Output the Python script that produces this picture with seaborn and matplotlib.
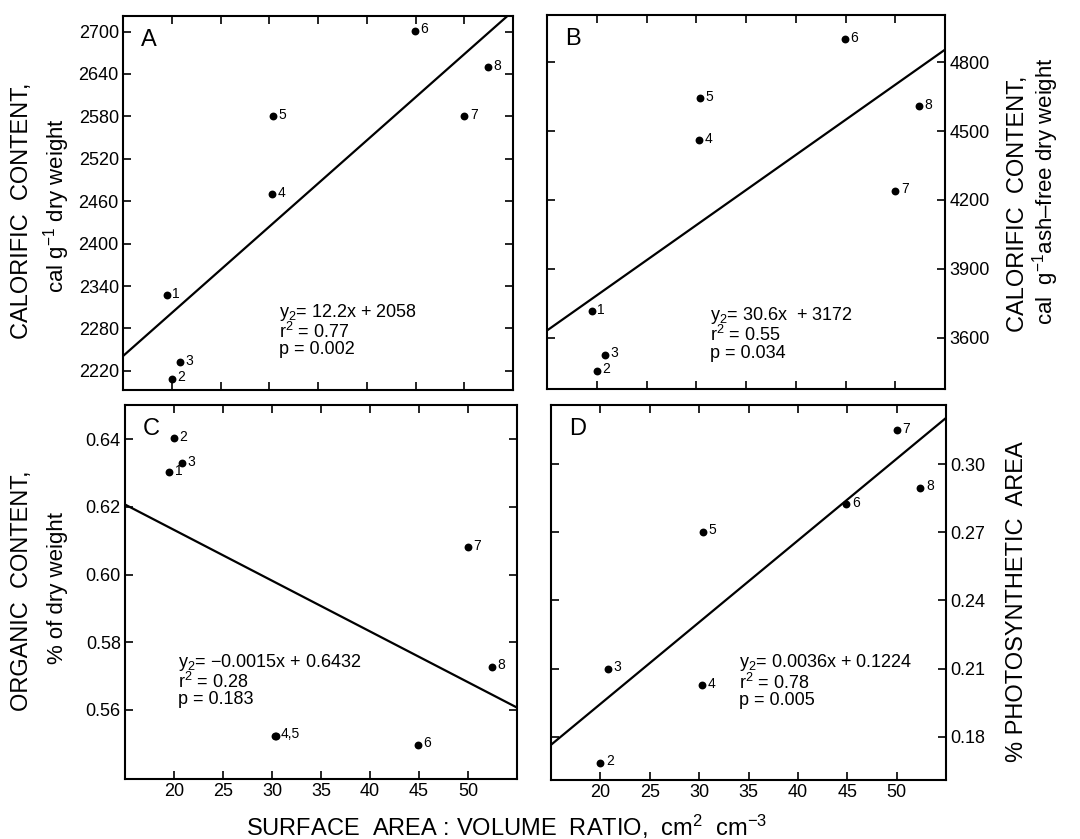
import numpy as np
import pandas as pd
import matplotlib
matplotlib.use("Agg")
import matplotlib.pyplot as plt
import seaborn as sns

# ---------------- data ----------------
sa_v_ratio = [19.5, 20.0, 20.8, 30.3, 30.4, 44.9, 50.0, 52.4]
point_ids = ["1", "2", "3", "4", "5", "6", "7", "8"]

cal_dry_weight = [2327, 2209, 2232, 2470, 2580, 2701, 2580, 2650]
cal_ash_free = [3716, 3455, 3525, 4460, 4643, 4900, 4240, 4608]
organic_content = [0.6302, 0.6403, 0.6329, 0.5524, 0.5524, 0.5497, 0.6081, 0.5728]
photosynthetic_area = [np.nan, 0.1685, 0.2099, 0.2027, 0.2703, 0.2824, 0.3151, 0.2897]

labels_A = ["1", "2", "3", "4", "5", "6", "7", "8"]
labels_B = ["1", "2", "3", "4", "5", "6", "7", "8"]
labels_C = ["1", "2", "3", "4,5", "", "6", "7", "8"]
labels_D = ["", "2", "3", "4", "5", "6", "7", "8"]

slopes = [12.2, 30.6, -0.0015, 0.0036]
intercepts = [2058, 3172, 0.6432, 0.1224]
r_squared = ["0.77", "0.55", "0.28", "0.78"]
p_values = ["0.002", "0.034", "0.183", "0.005"]
eq_texts = ["12.2x + 2058", "30.6x  + 3172", "\u22120.0015x + 0.6432", "0.0036x + 0.1224"]

yticks_A = [2220, 2280, 2340, 2400, 2460, 2520, 2580, 2640, 2700]
yticks_B = [3600, 3900, 4200, 4500, 4800]
yticks_C = [0.56, 0.58, 0.60, 0.62, 0.64]
yticks_D = [0.18, 0.21, 0.24, 0.27, 0.30]
xticks = [20, 25, 30, 35, 40, 45, 50]

# ---------------- style ----------------
sns.set_theme(style="ticks")
plt.rcParams["font.family"] = ["Liberation Sans", "DejaVu Sans"]
plt.rcParams["mathtext.fontset"] = "custom"
plt.rcParams["mathtext.rm"] = "Liberation Sans"
plt.rcParams["mathtext.it"] = "Liberation Sans"
plt.rcParams["axes.linewidth"] = 1.5
plt.rcParams["axes.edgecolor"] = "black"
plt.rcParams["text.color"] = "black"
plt.rcParams["axes.labelcolor"] = "black"
plt.rcParams["xtick.color"] = "black"
plt.rcParams["ytick.color"] = "black"

fig = plt.figure(figsize=(10.8, 8.39), dpi=100)
W, H = 1080, 839

def rect(l, t, r, b):
    return [l / W, 1 - b / H, (r - l) / W, (b - t) / H]

axA = fig.add_axes(rect(123, 16, 513, 390))
axB = fig.add_axes(rect(547, 15, 945, 389))
axC = fig.add_axes(rect(125, 405, 517, 779))
axD = fig.add_axes(rect(551, 405, 946, 780))

panels = [
    (axA, cal_dry_weight, labels_A, (2193, 2722), yticks_A, "A", "left", 2318, 31.0, "%d"),
    (axB, cal_ash_free, labels_B, (3376, 5006), yticks_B, "B", "right", 3742, 31.4, "%d"),
    (axC, organic_content, labels_C, (0.5396, 0.6501), yticks_C, "C", "left", 0.5772, 20.4, "%.2f"),
    (axD, photosynthetic_area, labels_D, (0.1609, 0.3261), yticks_D, "D", "right", 0.2171, 34.0, "%.2f"),
]

xline = np.array([15, 55])
for i, (ax, yvals, labs, ylim, yt, letter, side, ty, tx, fmt) in enumerate(panels):
    df = pd.DataFrame({"x": sa_v_ratio, "y": yvals, "lab": labs}).dropna()
    sns.scatterplot(data=df, x="x", y="y", ax=ax, color="black", s=32,
                    edgecolor="black", linewidth=0, zorder=3)
    line_df = pd.DataFrame({"x": xline, "y": slopes[i] * xline + intercepts[i]})
    sns.lineplot(data=line_df, x="x", y="y", ax=ax, color="black", linewidth=1.6)
    for _, row in df.iterrows():
        if row["lab"]:
            ax.annotate(row["lab"], (row["x"], row["y"]), xytext=(4, 1),
                        textcoords="offset points", fontsize=10, va="center", ha="left")
    ax.set_xlim(15, 55)
    ax.set_ylim(*ylim)
    ax.set_xticks(xticks)
    ax.set_yticks(yt)
    ax.yaxis.set_major_formatter(matplotlib.ticker.FormatStrFormatter(fmt))
    ax.set_xlabel("")
    ax.set_ylabel("")
    ax.tick_params(direction="in", length=6, width=1.2, top=True, right=True,
                   left=True, bottom=True, labelsize=13, colors="black", pad=3)
    if side == "right":
        ax.tick_params(labelleft=False, labelright=True)
    if i < 2:
        ax.tick_params(labelbottom=False)
    ax.text(0.045, 0.965, letter, transform=ax.transAxes, fontsize=17,
            va="top", ha="left")
    ax.text(tx, ty, "y$_2$= " + eq_texts[i] + "\nr$^2$ = " + r_squared[i] + "\np = " + p_values[i],
            fontsize=13, va="top", ha="left", linespacing=0.95)

# axis titles
fig.text(22 / W, 1 - 211 / H, "CALORIFIC  CONTENT,", rotation=90, fontsize=17,
         ha="center", va="center")
fig.text(57 / W, 1 - 205 / H, "cal g$^{-1}$ dry weight", rotation=90, fontsize=16,
         ha="center", va="center")
fig.text(22 / W, 1 - 591 / H, "ORGANIC  CONTENT,", rotation=90, fontsize=17,
         ha="center", va="center")
fig.text(57 / W, 1 - 588 / H, "% of dry weight", rotation=90, fontsize=16,
         ha="center", va="center")
fig.text(1018 / W, 1 - 204 / H, "CALORIFIC  CONTENT,", rotation=90, fontsize=17,
         ha="center", va="center")
fig.text(1046 / W, 1 - 191 / H, "cal  g$^{-1}$ash\u2013free dry weight", rotation=90,
         fontsize=16, ha="center", va="center")
fig.text(1017 / W, 1 - 602 / H, "% PHOTOSYNTHETIC  AREA", rotation=90, fontsize=17,
         ha="center", va="center")
fig.text(507 / W, 1 - 827 / H, "SURFACE  AREA : VOLUME  RATIO,  cm$^2$  cm$^{-3}$",
         fontsize=17, ha="center", va="center")

fig.savefig("out.png", dpi=100, facecolor="white")
